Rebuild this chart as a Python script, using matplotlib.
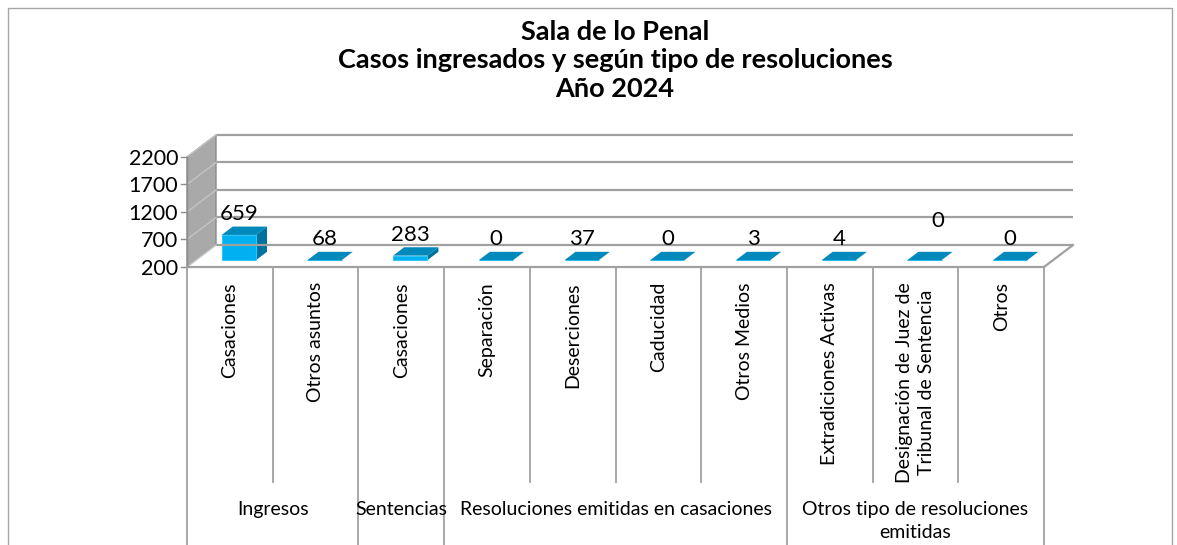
import numpy as np
import matplotlib.pyplot as plt
from matplotlib.patches import Polygon, Rectangle

plt.rcParams['font.family'] = ['Lato', 'DejaVu Sans']

# data
categories = ["Casaciones", "Otros asuntos", "Casaciones", "Separación", "Deserciones",
              "Caducidad", "Otros Medios", "Extradiciones Activas",
              "Designación de Juez de\nTribunal de Sentencia", "Otros"]
values = [659, 68, 283, 0, 37, 0, 3, 4, 0, 0]
groups = ["Ingresos", "Sentencias", "Resoluciones emitidas en casaciones",
          "Otros tipo de resoluciones\nemitidas"]
group_sizes = [2, 1, 4, 3]
y_ticks = [200, 700, 1200, 1700, 2200]
title = "Sala de lo Penal\nCasos ingresados y según tipo de resoluciones\nAño 2024"

# layout, in pixels of the 1177x545 picture
W, H = 1177, 545
FX0, FX1 = 187, 1044      # front edge of the floor
FY, TY = 267, 157         # rows of the lowest / highest tick on the front plane
DX, DY = 29, 22           # depth of the 3d box
label_nudge = {8: (13, 18)}  # data label moved by hand in the original

fig = plt.figure(figsize=(W / 100, H / 100), dpi=100)
ax = fig.add_axes([0, 0, 1, 1])
ax.axis('off')

n = len(values)
ymin, ymax = y_ticks[0], y_ticks[-1]
cat_px = (FX1 - FX0) / n
val_px = (FY - TY) / (ymax - ymin)
ax.set_xlim(-0.5 - FX0 / cat_px, n - 0.5 + (W - FX1) / cat_px)
ax.set_ylim(ymin - (H - FY) / val_px, ymax + TY / val_px)
dxd, dyd = DX / cat_px, DY / val_px


def P(x, v, f=0.0):
    # oblique projection: f is depth (0 front, 1 back)
    return (x + f * dxd, v + f * dyd)


def fy(py):
    # pixel row -> axes fraction
    return 1 - py / H


xl, xr = -0.5, n - 0.5
grid_c = '#A0A0A0'

# side wall, floor, back wall grid
ax.add_patch(Polygon([P(xl, ymin, 0), P(xl, ymin, 1), P(xl, ymax, 1), P(xl, ymax, 0)],
                     fc='#A9A9A9', ec='#8C8C8C', lw=1))
ax.add_patch(Polygon([P(xl, ymin, 0), P(xr, ymin, 0), P(xr, ymin, 1), P(xl, ymin, 1)],
                     fc='white', ec='none'))
for t in y_ticks:
    ax.plot(*zip(P(xl, t, 1), P(xr, t, 1)), color=grid_c, lw=1.6, solid_capstyle='butt')
    ax.plot(*zip(P(xl, t, 0), P(xl, t, 1)), color='#C4C4C4', lw=1)
    ax.plot([xl - 6 / cat_px, xl], [t, t], color='#8C8C8C', lw=1)
    ax.annotate(str(t), (xl, t), xytext=(-9, -2), textcoords='offset pixels',
                ha='right', va='center', fontsize=15.5)
ax.plot(*zip(P(xl, ymin, 0), P(xr, ymin, 0)), color=grid_c, lw=1.6)
ax.plot(*zip(P(xr, ymin, 0), P(xr, ymin, 1)), color=grid_c, lw=1.6)
ax.plot(*zip(P(xl, ymin, 0), P(xl, ymax, 0)), color='#8C8C8C', lw=1)

# bars
w, f0, f1 = 0.4, 0.31, 0.69
for i, v in enumerate(values):
    h = max(v, ymin)
    a, b = i - w / 2, i + w / 2
    ax.add_patch(Polygon([P(b, ymin, f0), P(b, ymin, f1), P(b, h, f1), P(b, h, f0)],
                         fc='#00729E', ec='none'))
    ax.add_patch(Polygon([P(a, ymin, f0), P(b, ymin, f0), P(b, h, f0), P(a, h, f0)],
                         fc='#00B0F0', ec='#33C4F5', lw=0.8))
    ax.add_patch(Polygon([P(a, h, f0), P(b, h, f0), P(b, h, f1), P(a, h, f1)],
                         fc='#0089BA', ec='none'))
    ndx, ndy = label_nudge.get(i, (0, 0))
    ax.annotate(str(v), P(i, h, f0), xytext=(ndx, 15 + ndy), textcoords='offset pixels',
                ha='center', va='baseline', fontsize=16)

# category axis
bounds = np.cumsum([0] + group_sizes)
for k in range(n + 1):
    bottom = -0.05 if k in bounds else fy(482)
    ax.plot([k - 0.5, k - 0.5], [fy(FY), bottom], color=grid_c, lw=1.3,
            transform=ax.get_xaxis_transform(), clip_on=False)
for i, c in enumerate(categories):
    ax.text(i, fy(282), c, rotation=90, ha='center', va='top', multialignment='center',
            fontsize=14, linespacing=1.3, transform=ax.get_xaxis_transform())
for g, s, e in zip(groups, bounds[:-1], bounds[1:]):
    ax.text((s + e - 1) / 2, fy(501), g, ha='center', va='top', fontsize=14,
            linespacing=1.45, transform=ax.get_xaxis_transform())

fig.text(615 / W, fy(20), title, ha='center', va='top', fontsize=19.5, fontweight='bold',
         linespacing=1.22)
fig.patches.append(Rectangle((8 / W, -0.1), 1164 / W, (H - 8) / H + 0.1,
                             transform=fig.transFigure, fill=False, ec='#A6A6A6', lw=1))

fig.savefig('out.png', dpi=100)
